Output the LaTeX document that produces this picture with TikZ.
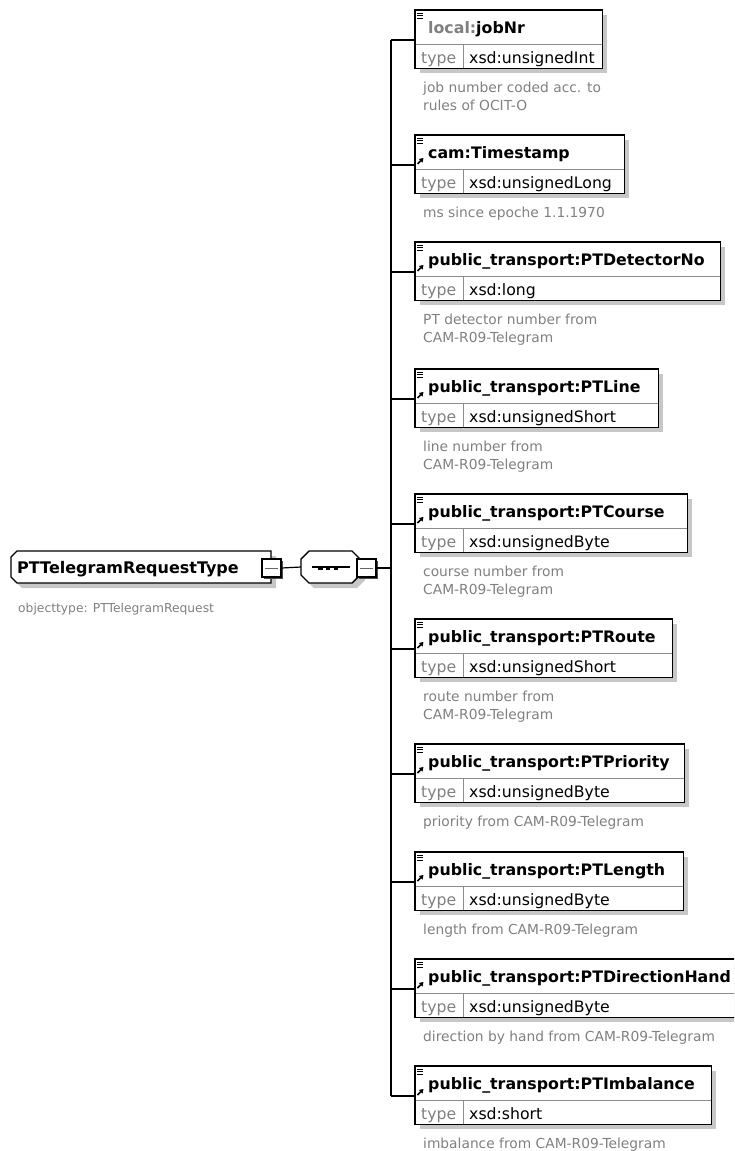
\documentclass[tikz,border=0pt]{standalone}
\usepackage{fontspec}
\setmainfont{DejaVu Sans}
\usetikzlibrary{shadows}
\usetikzlibrary{arrows.meta}

\definecolor{txtgray}{gray}{0.5}
\definecolor{shadowgray}{gray}{0.78}

\tikzset{
    sdw/.style={drop shadow={shadow xshift=5pt, shadow yshift=-5pt, fill=shadowgray, opacity=1}},
    rowbox/.style={fill=white, anchor=north west, inner sep=0pt, sdw},
    elframe/.style={draw=black, line width=1.4pt},
    elsep/.style={draw=black!45, line width=0.8pt},
    wire/.style={draw=black, line width=1.2pt},
    hdr/.style={font=\fontsize{15.8}{18}\selectfont\bfseries, anchor=base west, inner sep=0pt},
    val/.style={font=\fontsize{15.7}{18}\selectfont, anchor=base west, inner sep=0pt},
    note/.style={font=\fontsize{13.8}{18}\selectfont, text=txtgray, anchor=north west, inner sep=0pt, align=left},
    minusbox/.style={draw=black, fill=white, line width=1.2pt, minimum width=19pt, minimum height=18pt, inner sep=0pt,
      drop shadow={shadow xshift=1.5pt, shadow yshift=-1.5pt, fill=black!70, opacity=1}},
    place/.style={inner sep=0pt, outer sep=0pt}
}

\begin{document}
\begin{tikzpicture}[x=1pt, y=-1pt]
    \useasboundingbox (0,0) rectangle (734,1151);
    \clip (0,0) rectangle (734,1151);

    \node[place, minimum width=260pt, minimum height=32pt] (ct) at (141,567) {};
    \draw[elframe, fill=white, sdw] ([xshift=6pt]ct.north west) -- (ct.north east) -- (ct.south east)
      -- ([xshift=6pt]ct.south west) -- ([yshift=6pt]ct.south west) -- ([yshift=-6pt]ct.north west) -- cycle;
    \node[hdr, font=\fontsize{16}{18}\selectfont\bfseries] (ctname) at (17,573) {PTTelegramRequestType};
    \node[note, anchor=base west, font=\fontsize{12.3}{18}\selectfont] (ctnote) at (18,612) {objecttype: PTTelegramRequest};
    \node[minusbox] (ctm) at (271.5,568) {};
    \draw[black!60, line width=1pt] ([xshift=4pt]ctm.west) -- ([xshift=-4pt]ctm.east);

    \node[place, minimum width=59pt, minimum height=32pt] (seq) at (330.5,567) {};
    \draw[elframe, fill=white, sdw] ([xshift=8pt]seq.north west) -- ([xshift=-8pt]seq.north east)
      -- ([yshift=-8pt]seq.north east) -- ([yshift=8pt]seq.south east) -- ([xshift=-8pt]seq.south east)
      -- ([xshift=8pt]seq.south west) -- ([yshift=8pt]seq.south west) -- ([yshift=-8pt]seq.north west) -- cycle;
    \draw[wire] ([xshift=11pt]seq.west) -- ([xshift=-10pt]seq.east);
    \foreach \x in {320.5,328,336}
      \fill (\x-2.2,565.8) rectangle (\x+2.2,570.2);
    \node[minusbox] (seqm) at (366.5,568) {};
    \draw[black!60, line width=1pt] ([xshift=4pt]seqm.west) -- ([xshift=-4pt]seqm.east);

    \coordinate (hub) at (391,568);
    \draw[wire] (ctm.east) -- (seq.west);
    \draw[wire] (seqm.east) -- (hub);

    \foreach \i/\yt/\xr/\isref/\ename/\etype/\edesc in {
      1/10/602/0/{{\color{txtgray}local:}jobNr}/xsd:unsignedInt/{job number coded acc. to\\rules of OCIT-O},
      2/135/624/1/{cam:Timestamp}/xsd:unsignedLong/{ms since epoche 1.1.1970},
      3/242/720/1/{public\_transport:PTDetectorNo}/xsd:long/{PT detector number from\\CAM-R09-Telegram},
      4/369/658/1/{public\_transport:PTLine}/xsd:unsignedShort/{line number from\\CAM-R09-Telegram},
      5/494/687/1/{public\_transport:PTCourse}/xsd:unsignedByte/{course number from\\CAM-R09-Telegram},
      6/619/672/1/{public\_transport:PTRoute}/xsd:unsignedShort/{route number from\\CAM-R09-Telegram},
      7/744/684/1/{public\_transport:PTPriority}/xsd:unsignedByte/{priority from CAM-R09-Telegram},
      8/852/683/1/{public\_transport:PTLength}/xsd:unsignedByte/{length from CAM-R09-Telegram},
      9/959/745/1/{public\_transport:PTDirectionHand}/xsd:unsignedByte/{direction by hand from CAM-R09-Telegram},
      10/1066/711/1/{public\_transport:PTImbalance}/xsd:short/{imbalance from CAM-R09-Telegram}}
    {
      \node[rowbox, minimum width=\xr-415, minimum height=34] (e\i) at (415,\yt) {};
      \node[rowbox, minimum width=\xr-415, minimum height=24] (t\i) at (415,\yt+34) {};
      \draw[elsep] (t\i.north west) -- (t\i.north east);
      \draw[elsep] ([xshift=48pt]t\i.north west) -- ([xshift=48pt]t\i.south west);
      \draw[elframe] (e\i.north west) rectangle (t\i.south east);
      \draw[line width=0.9pt] (417,\yt+3) -- (423,\yt+3) (417,\yt+5.5) -- (423,\yt+5.5)
        (417,\yt+8) -- (423,\yt+8);
      \ifnum\isref=1
        \draw[line width=1.5pt, -{Triangle[length=4pt,width=5pt]}] (417.5,\yt+29) -- (423.5,\yt+23);
      \fi
      \node[hdr] (n\i) at (428,\yt+23) {\ename};
      \node[val, text=txtgray] (k\i) at (421,\yt+53) {type};
      \node[val] (v\i) at (469,\yt+53) {\etype};
      \node[note] (d\i) at (423,\yt+70) {\strut\edesc};
      \coordinate (b\i) at (391,\yt+30);
      \draw[wire] (b\i) -- (b\i -| e\i.west);
    }
    \draw[wire] (b1) -- (b10);
\end{tikzpicture}
\end{document}
